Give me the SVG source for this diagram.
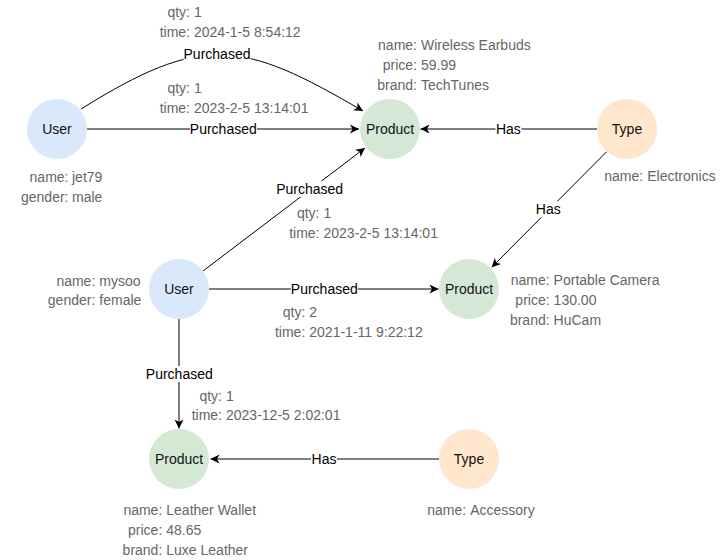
<svg xmlns="http://www.w3.org/2000/svg" width="725" height="560" viewBox="0 0 725 560">
<style>
  text { font-family: "Liberation Sans", Arial, Helvetica, sans-serif; font-size: 14px; }
  .lbl { fill: #111111; text-anchor: middle; }
  .k { fill: #666666; text-anchor: end; }
  .v { fill: #666666; text-anchor: start; }
  .user { fill: #dae8fc; }
  .product { fill: #d5e8d4; }
  .type { fill: #ffe6cc; }
  .edge { fill: none; stroke: #000000; stroke-width: 1; marker-end: url(#arrow); }
  .ebg { fill: #ffffff; }
  .elbl { fill: #000000; text-anchor: middle; }
</style>
<defs>
  <marker id="arrow" markerWidth="12" markerHeight="12" refX="10" refY="5" orient="auto" markerUnits="userSpaceOnUse" overflow="visible">
    <path d="M10,5 L1,0.5 L3.5,5 L1,9.5 Z" fill="#000000"/>
  </marker>
</defs>
<rect width="725" height="560" fill="#ffffff"/>

<g id="connectors">
  <!-- user1 -> product1 curved -->
  <path class="edge" d="M81,109 C203,33 242,40 363,111"/>
  <rect class="ebg" x="183.5" y="46" width="67" height="16"/>
  <text class="elbl" x="217" y="59">Purchased</text>
  <text class="k" x="190" y="17">qty:</text><text class="v" x="194" y="17">1</text>
  <text class="k" x="190" y="37">time:</text><text class="v" x="194" y="37">2024-1-5 8:54:12</text>

  <!-- user1 -> product1 straight -->
  <path class="edge" d="M87,129 L359,129"/>
  <rect class="ebg" x="190" y="121" width="67" height="16"/>
  <text class="elbl" x="223.3" y="134">Purchased</text>
  <text class="k" x="190" y="93">qty:</text><text class="v" x="194" y="93">1</text>
  <text class="k" x="190" y="113">time:</text><text class="v" x="194" y="113">2023-2-5 13:14:01</text>

  <!-- user2 -> product1 diagonal -->
  <path class="edge" d="M203,271 L365,148"/>
  <rect class="ebg" x="276.2" y="181" width="67" height="16"/>
  <text class="elbl" x="309.7" y="194">Purchased</text>
  <text class="k" x="319.5" y="218">qty:</text><text class="v" x="323.5" y="218">1</text>
  <text class="k" x="319.5" y="238">time:</text><text class="v" x="323.5" y="238">2023-2-5 13:14:01</text>

  <!-- user2 -> product2 -->
  <path class="edge" d="M209,289 L438.5,289"/>
  <rect class="ebg" x="290.8" y="281" width="67" height="16"/>
  <text class="elbl" x="324.3" y="294">Purchased</text>
  <text class="k" x="305.3" y="317">qty:</text><text class="v" x="309.3" y="317">2</text>
  <text class="k" x="305.3" y="337">time:</text><text class="v" x="309.3" y="337">2021-1-11 9:22:12</text>

  <!-- user2 -> product3 -->
  <path class="edge" d="M179,319 L179,428.5"/>
  <rect class="ebg" x="145.8" y="366" width="67" height="16"/>
  <text class="elbl" x="179.3" y="379">Purchased</text>
  <text class="k" x="222" y="400.7">qty:</text><text class="v" x="226" y="400.7">1</text>
  <text class="k" x="222" y="420.3">time:</text><text class="v" x="226" y="420.3">2023-12-5 2:02:01</text>

  <!-- type1 -> product1 -->
  <path class="edge" d="M597,129 L420.5,129"/>
  <rect class="ebg" x="495.5" y="121" width="26" height="16"/>
  <text class="elbl" x="508.4" y="134">Has</text>

  <!-- type1 -> product2 -->
  <path class="edge" d="M606.7,151.7 L491.7,267.3"/>
  <rect class="ebg" x="535.3" y="201.3" width="26" height="16"/>
  <text class="elbl" x="548.3" y="214.3">Has</text>

  <!-- type2 -> product3 -->
  <path class="edge" d="M439,459 L210.5,459"/>
  <rect class="ebg" x="311" y="451" width="26" height="16"/>
  <text class="elbl" x="324" y="464">Has</text>
</g>

<g id="user1">
  <circle class="user" cx="57" cy="129" r="30"/>
  <text class="lbl" x="57" y="134">User</text>
  <text class="k" x="68.5" y="181.5">name:</text><text class="v" x="72" y="181.5">jet79</text>
  <text class="k" x="68.5" y="201.5">gender:</text><text class="v" x="72" y="201.5">male</text>
</g>

<g id="product1">
  <circle class="product" cx="390" cy="129" r="30"/>
  <text class="lbl" x="390" y="134">Product</text>
  <text class="k" x="417" y="50">name:</text><text class="v" x="421" y="50">Wireless Earbuds</text>
  <text class="k" x="417" y="70">price:</text><text class="v" x="421" y="70">59.99</text>
  <text class="k" x="417" y="90">brand:</text><text class="v" x="421" y="90">TechTunes</text>
</g>

<g id="type1">
  <circle class="type" cx="627" cy="129" r="30"/>
  <text class="lbl" x="627" y="134">Type</text>
  <text class="k" x="643.2" y="181">name:</text><text class="v" x="647.2" y="181">Electronics</text>
</g>

<g id="user2">
  <circle class="user" cx="179" cy="289" r="30"/>
  <text class="lbl" x="179" y="294">User</text>
  <text class="k" x="95.3" y="285.7">name:</text><text class="v" x="99.3" y="285.7">mysoo</text>
  <text class="k" x="95.3" y="305">gender:</text><text class="v" x="99.3" y="305">female</text>
</g>

<g id="product2">
  <circle class="product" cx="469" cy="289" r="30"/>
  <text class="lbl" x="469" y="294">Product</text>
  <text class="k" x="549.6" y="285">name:</text><text class="v" x="553.6" y="285">Portable Camera</text>
  <text class="k" x="549.6" y="305">price:</text><text class="v" x="553.6" y="305">130.00</text>
  <text class="k" x="549.6" y="325">brand:</text><text class="v" x="553.6" y="325">HuCam</text>
</g>

<g id="product3">
  <circle class="product" cx="179" cy="459" r="30"/>
  <text class="lbl" x="179" y="464">Product</text>
  <text class="k" x="162.3" y="515">name:</text><text class="v" x="166.3" y="515">Leather Wallet</text>
  <text class="k" x="162.3" y="535">price:</text><text class="v" x="166.3" y="535">48.65</text>
  <text class="k" x="162.3" y="555">brand:</text><text class="v" x="166.3" y="555">Luxe Leather</text>
</g>

<g id="type2">
  <circle class="type" cx="469" cy="459" r="30"/>
  <text class="lbl" x="469" y="464">Type</text>
  <text class="k" x="466.2" y="515">name:</text><text class="v" x="470.2" y="515">Accessory</text>
</g>
</svg>
